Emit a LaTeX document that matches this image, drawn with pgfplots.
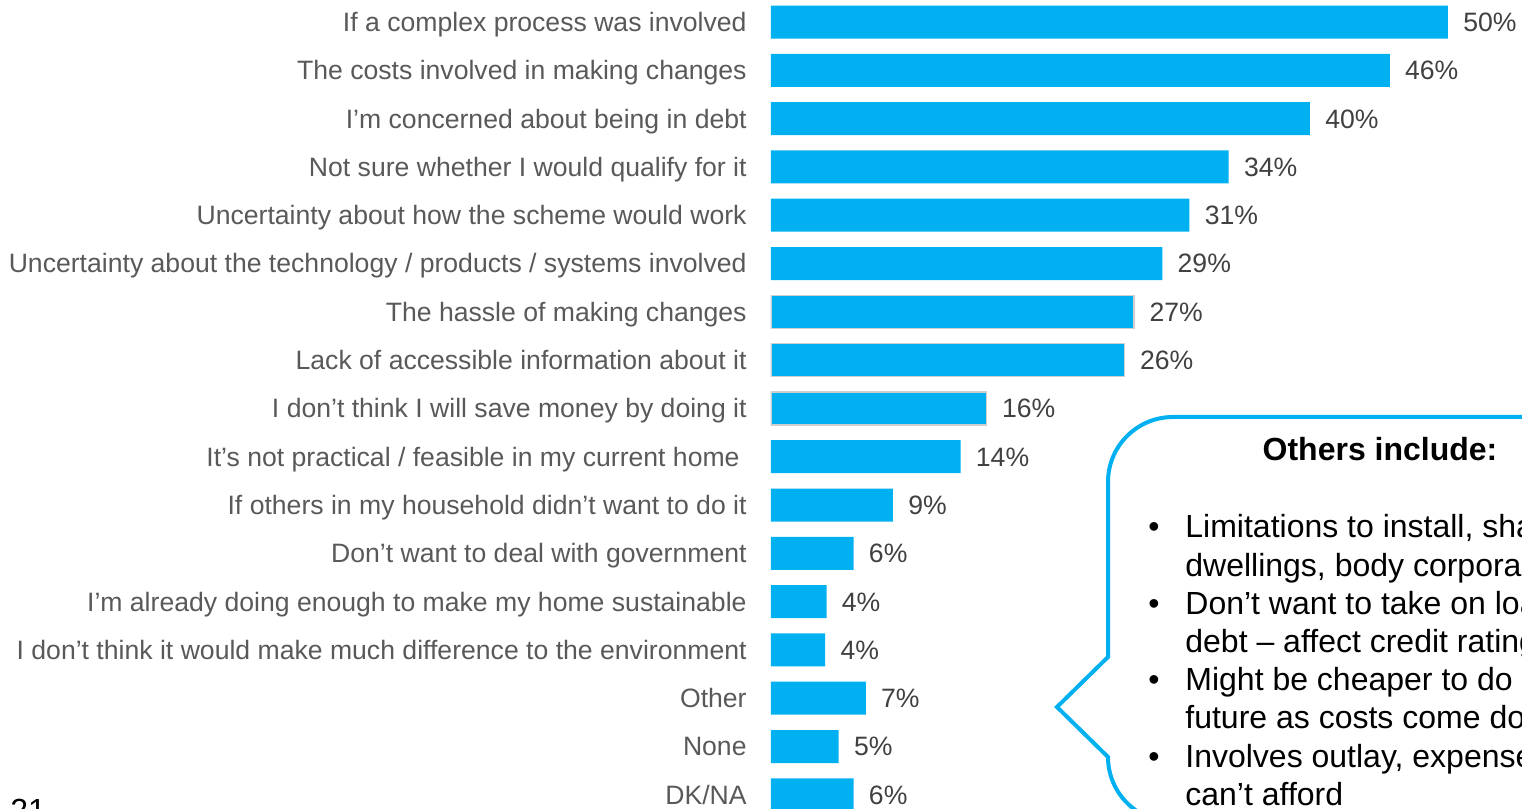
\documentclass[border=0pt]{standalone}
\usepackage{pgfplots}
\pgfplotsset{compat=1.18}
\usepackage{fontspec}
\setmainfont{Liberation Sans}
\definecolor{barblue}{HTML}{00B0F0}
\definecolor{labgray}{HTML}{595959}
\definecolor{valgray}{HTML}{404040}
\definecolor{edgegray}{HTML}{CFCFCF}

\begin{document}
\begin{tikzpicture}
% page is 1522x809 px at 0.5pt per px
\path[use as bounding box] (0,0) rectangle (761pt,404.5pt);
\begin{scope}
\clip (0,0) rectangle (761pt,404.5pt);

\begin{axis}[
    at={(385.5pt,-4.975pt)},
    anchor=south west,
    scale only axis,
    width=372.35pt,
    height=410.55pt,
    xmin=0, xmax=55,
    ymin=-0.5, ymax=16.5,
    y dir=reverse,
    xbar,
    bar width=16.5pt,
    bar shift=0pt,
    axis line style={draw=none},
    xtick=\empty,
    ytick={0,...,16},
    major tick length=0pt,
    yticklabels={
        If a complex process was involved,
        The costs involved in making changes,
        I’m concerned about being in debt,
        Not sure whether I would qualify for it,
        Uncertainty about how the scheme would work,
        Uncertainty about the technology / products / systems involved,
        The hassle of making changes,
        Lack of accessible information about it,
        I don’t think I will save money by doing it,
        It’s not practical / feasible in my current home\hspace*{3.5pt},
        If others in my household didn’t want to do it,
        Don’t want to deal with government,
        I\char"27 m already doing enough to make my home sustainable,
        I don’t think it would make much difference to the environment,
        Other,
        None,
        DK/NA
    },
    yticklabel style={font=\fontsize{13.3}{15}\selectfont, text=labgray, inner sep=0pt, anchor=base east, xshift=-12pt, yshift=-4.7pt},
    /pgf/number format/assume math mode=true,
    point meta=explicit,
    nodes near coords={\pgfmathprintnumber{\pgfplotspointmeta}\%},
    nodes near coords style={font=\fontsize{13.3}{15}\selectfont, text=valgray, anchor=base west, inner sep=0pt, xshift=7.5pt, yshift=-4.7pt},
]
% bar length, label in brackets
\addplot[fill=barblue, draw=none] coordinates {
    (50.0,0) [50] (45.7,1) [46] (39.8,2) [40] (33.8,3) [34] (30.9,4) [31]
    (28.9,5) [29] (14.0,9) [14] (9.0,10) [9] (6.1,11) [6] (4.1,12) [4]
    (4.0,13) [4] (7.0,14) [7] (5.0,15) [5] (6.1,16) [6]
};
% these three bars have a thin grey edge
\addplot[fill=barblue, draw=edgegray, line width=0.75pt] coordinates {
    (26.8,6) [27] (26.1,7) [26] (15.9,8) [16]
};
\end{axis}

% callout
\draw[barblue, line width=2pt]
    (800pt,196pt) -- (586.5pt,196pt)
    arc[start angle=90, end angle=180, radius=32.5pt]
    -- (554pt,76pt) -- (528.5pt,51pt) -- (554pt,26pt)
    arc[start angle=180, end angle=270, radius=32.5pt]
    -- (800pt,-6.5pt);
\node[anchor=base, font=\fontsize{16}{19}\selectfont\bfseries] at (690pt,174pt) {Others include:};
\begin{scope}[every node/.style={anchor=base west, inner sep=0pt, font=\fontsize{16}{19}\selectfont}]
\node at (574pt,135.5pt) {•};
\node at (592.5pt,135.5pt) {Limitations to install, shared};
\node at (592.5pt,116.4pt) {dwellings, body corporate};
\node at (574pt,97.3pt) {•};
\node at (592.5pt,97.3pt) {Don’t want to take on loans /};
\node at (592.5pt,78.2pt) {debt – affect credit rating};
\node at (574pt,59.1pt) {•};
\node at (592.5pt,59.1pt) {Might be cheaper to do in};
\node at (592.5pt,40pt) {future as costs come down};
\node at (574pt,20.9pt) {•};
\node at (592.5pt,20.9pt) {Involves outlay, expense,};
\node at (592.5pt,1.8pt) {can’t afford};
\node at (5pt,-6.5pt) {21};
\end{scope}
\end{scope}
\end{tikzpicture}
\end{document}
